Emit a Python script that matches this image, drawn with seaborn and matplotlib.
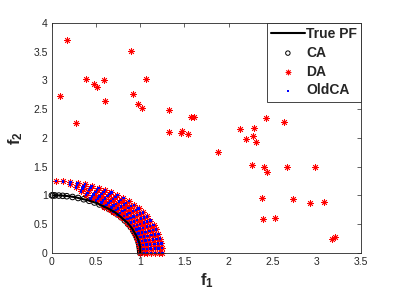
import numpy as np
import pandas as pd
import matplotlib
matplotlib.use("Agg")
import matplotlib.pyplot as plt
import seaborn as sns

# ---- data ----
# True Pareto front (polyline)
pf_f1 = [0.0, 0.09, 0.17, 0.26, 0.34, 0.42, 0.50, 0.57, 0.64, 0.71, 0.77, 0.82, 0.87, 0.91, 0.94, 0.97, 0.99, 1.0, 1.0]
pf_f2 = [1.0, 1.0, 0.99, 0.97, 0.94, 0.91, 0.87, 0.82, 0.77, 0.71, 0.64, 0.57, 0.50, 0.42, 0.34, 0.26, 0.17, 0.09, 0.0]

# CA points lie on the front, along these directions (degrees from f1 axis)
ca_angles_deg = [0, 1.5, 3, 4.5, 6, 7.7, 9.5, 11.5, 13.5, 15.3, 17.2, 19.1, 21, 23, 26.8, 30.6, 34.4,
                 38.3, 42.1, 45.9, 49.7, 53.6, 57.4, 61.2, 65, 68.9, 72.7, 76.5, 80.3, 83, 85.5, 88, 89.2, 90]
ca_radius = 1.0

# DA / OldCA grid near the front: ray directions and radial levels
ray_angles_deg = [0, 3.8, 7.7, 11.5, 15.3, 19.1, 23, 26.8, 30.6, 34.4, 38.3, 42.1,
                  45.9, 49.7, 53.6, 57.4, 61.2, 65, 68.9, 72.7, 76.5, 80.3, 84.2, 88]
ring_radii = [1.0, 1.04, 1.08, 1.12, 1.17, 1.21, 1.25]
rings_per_ray = [7, 7, 7, 7, 7, 7, 7, 7, 7, 7, 7, 7,
                 7, 7, 7, 6, 6, 6, 5, 4, 3, 2, 1, 1]

# DA points far from the front
da_out_f1 = [0.09, 0.17, 0.27, 0.39, 0.48, 0.51, 0.59, 0.60, 0.90, 0.92, 0.97, 1.02, 1.07,
             1.33, 1.33, 1.46, 1.47, 1.54, 1.58, 1.61, 1.88, 2.13, 2.20, 2.29, 2.28, 2.31,
             2.42, 2.63, 2.26, 2.40, 2.43, 2.66, 2.98, 2.38, 2.73, 2.92, 3.08, 2.39, 2.53,
             3.17, 3.20]
da_out_f2 = [2.72, 3.70, 2.26, 3.03, 2.93, 2.89, 3.00, 2.64, 3.51, 2.76, 2.58, 2.51, 3.03,
             2.49, 2.11, 2.08, 2.12, 2.07, 2.37, 2.36, 1.76, 2.16, 1.98, 2.17, 2.04, 1.93,
             2.34, 2.28, 1.52, 1.49, 1.41, 1.49, 1.50, 0.95, 0.94, 0.87, 0.89, 0.59, 0.61,
             0.25, 0.28]

x_ticks = [0, 0.5, 1, 1.5, 2, 2.5, 3, 3.5]
x_tick_labels = ['0', '0.5', '1', '1.5', '2', '2.5', '3', '3.5']
y_ticks = [0, 0.5, 1, 1.5, 2, 2.5, 3, 3.5, 4]
y_tick_labels = ['0', '0.5', '1', '1.5', '2', '2.5', '3', '3.5', '4']

# ---- build tables ----
pf = pd.DataFrame({'f1': pf_f1, 'f2': pf_f2})
ca_t = np.deg2rad(ca_angles_deg)
ca = pd.DataFrame({'f1': ca_radius * np.cos(ca_t), 'f2': ca_radius * np.sin(ca_t)})
g1, g2 = [], []
for ang, n in zip(ray_angles_deg, rings_per_ray):
    t = np.deg2rad(ang)
    for r in ring_radii[len(ring_radii) - n:]:
        g1.append(r * np.cos(t))
        g2.append(r * np.sin(t))
grid = pd.DataFrame({'f1': g1, 'f2': g2})
da = pd.concat([grid, pd.DataFrame({'f1': da_out_f1, 'f2': da_out_f2})], ignore_index=True)

# ---- style ----
sns.set_style("white")
plt.rcParams['font.family'] = ['Liberation Sans', 'DejaVu Sans']
plt.rcParams['mathtext.fontset'] = 'custom'
plt.rcParams['mathtext.rm'] = 'Liberation Sans'
plt.rcParams['mathtext.bf'] = 'Liberation Sans:bold'

fig = plt.figure(figsize=(3.99, 2.99), dpi=100)
ax = fig.add_axes([0.130, 0.154, 0.775, 0.770])

sns.lineplot(data=pf, x='f1', y='f2', sort=False, color='black', linewidth=1.5,
             ax=ax, label='True PF', estimator=None)
sns.scatterplot(data=ca, x='f1', y='f2', marker='o', s=16, facecolor='none',
                edgecolor='black', linewidth=0.7, ax=ax, label='CA', clip_on=False)
sns.scatterplot(data=da, x='f1', y='f2', marker=(8, 2, 0), s=20, color='red',
                edgecolor='#ff2020', linewidth=0.6, ax=ax, label='DA', clip_on=False)
sns.scatterplot(data=grid, x='f1', y='f2', marker='s', s=3, color='blue',
                edgecolor='none', linewidth=0, ax=ax, label='OldCA', clip_on=False)

ax.set_xlim(0, 3.5)
ax.set_ylim(0, 4)
ax.set_xticks(x_ticks)
ax.set_xticklabels(x_tick_labels)
ax.set_yticks(y_ticks)
ax.set_yticklabels(y_tick_labels)
ax.tick_params(direction='in', top=True, right=True, length=3, width=0.5,
               colors='0.15', labelsize=7.5, pad=3)
for sp in ax.spines.values():
    sp.set_linewidth(0.6)
    sp.set_color('0.15')
    sp.set_visible(True)

ax.set_xlabel(r'$\mathbf{f_1}$', fontsize=12, labelpad=3)
ax.set_ylabel(r'$\mathbf{f_2}$', fontsize=12, labelpad=6)

leg = ax.legend(loc='upper right', bbox_to_anchor=(1.0, 1.0), borderaxespad=0,
                frameon=True, fancybox=False, edgecolor='0.15', framealpha=1,
                prop={'weight': 'bold', 'size': 10}, handlelength=2.4,
                handletextpad=0.1, labelspacing=0.35, borderpad=0.3, markerscale=0.8)
leg.get_frame().set_linewidth(0.6)

fig.savefig('out.png', dpi=100)
